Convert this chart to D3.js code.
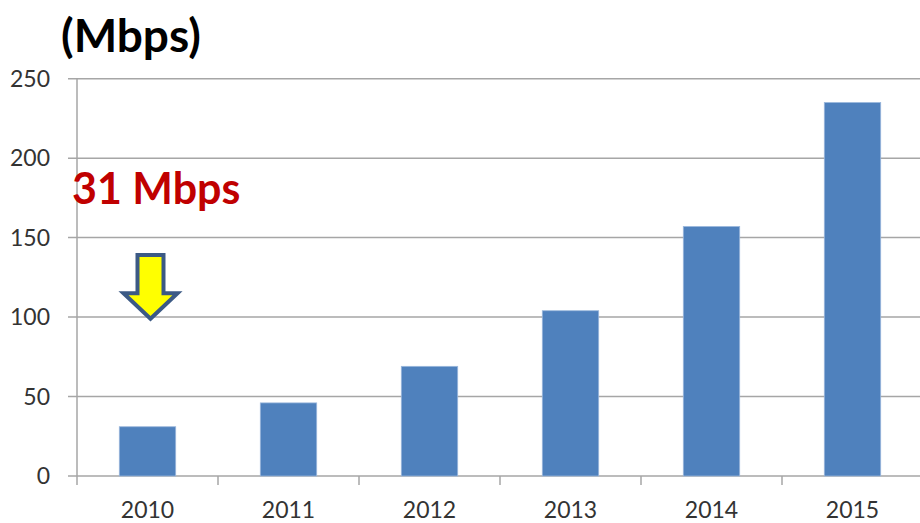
<!DOCTYPE html>
<html>
<head>
<meta charset="utf-8">
<script src="https://cdn.jsdelivr.net/npm/d3@7"></script>
<style>
  body { margin: 0; background: #fff; }
  text { font-family: Lato, "Open Sans", sans-serif; }
</style>
</head>
<body>
<script>
var width = 920,
    height = 523;

// data
var years = ['2010', '2011', '2012', '2013', '2014', '2015'];
var speeds = [31, 46, 69, 104, 157, 235];
var yTicks = [0, 50, 100, 150, 200, 250];

var plotLeft = 77, plotRight = 923, plotTop = 78.7, plotBottom = 476;

var svg = d3.select('body')
  .append('svg')
  .attr('width', width)
  .attr('height', height);

var x = d3.scaleBand()
  .domain(years)
  .range([plotLeft, plotRight])
  .paddingInner(0.6)
  .paddingOuter(0.3);

var y = d3.scaleLinear()
  .domain([0, 250])
  .range([plotBottom, plotTop]);

// gridlines
svg.selectAll('line.grid')
  .data(yTicks)
  .enter().append('line')
  .attr('class', 'grid')
  .attr('x1', plotLeft - 9)
  .attr('x2', width)
  .attr('y1', function (d) { return y(d); })
  .attr('y2', function (d) { return y(d); })
  .attr('stroke', '#a6a6a6')
  .attr('stroke-width', 1.5);

// y axis line
svg.append('line')
  .attr('x1', plotLeft).attr('x2', plotLeft)
  .attr('y1', y(250)).attr('y2', plotBottom + 9)
  .attr('stroke', '#a6a6a6')
  .attr('stroke-width', 1.5);

// x ticks at band edges
var step = x.step();
svg.selectAll('line.xtick')
  .data(years.slice(1))
  .enter().append('line')
  .attr('class', 'xtick')
  .attr('x1', function (d) { return x(d) - step * 0.3; })
  .attr('x2', function (d) { return x(d) - step * 0.3; })
  .attr('y1', plotBottom)
  .attr('y2', plotBottom + 9)
  .attr('stroke', '#a6a6a6')
  .attr('stroke-width', 1.5);

// y tick labels
svg.selectAll('text.ytick')
  .data(yTicks)
  .enter().append('text')
  .attr('class', 'ytick')
  .attr('x', 50)
  .attr('y', function (d) { return y(d) + 8; })
  .attr('text-anchor', 'end')
  .attr('font-size', 23)
  .attr('fill', '#333')
  .text(function (d) { return d; });

// x labels
svg.selectAll('text.xlabel')
  .data(years)
  .enter().append('text')
  .attr('class', 'xlabel')
  .attr('x', function (d) { return x(d) + x.bandwidth() / 2; })
  .attr('y', 518)
  .attr('text-anchor', 'middle')
  .attr('font-size', 23)
  .attr('fill', '#333')
  .text(function (d) { return d; });

// bars
svg.selectAll('rect.bar')
  .data(speeds)
  .enter().append('rect')
  .attr('class', 'bar')
  .attr('x', function (d, i) { return x(years[i]); })
  .attr('width', x.bandwidth())
  .attr('y', function (d) { return y(d); })
  .attr('height', function (d) { return plotBottom - y(d); })
  .attr('fill', '#4f81bd')
  .attr('stroke', '#9ab7dc')
  .attr('stroke-width', 0.8);

// unit title
svg.append('text')
  .attr('x', 61)
  .attr('y', 52)
  .attr('font-size', 46)
  .attr('font-weight', 'bold')
  .attr('fill', '#000')
  .text('(Mbps)');

// callout
svg.append('text')
  .attr('x', 72)
  .attr('y', 204)
  .attr('font-size', 43)
  .attr('font-weight', 'bold')
  .attr('fill', '#c00000')
  .text('31 Mbps');

// arrow over the 2010 bar
var ax = x('2010') + x.bandwidth() / 2 + 3;
var aTop = y(139), aNeck = y(115), aTip = y(99);
var arrow = [
  [ax - 13, aTop], [ax + 13, aTop], [ax + 13, aNeck], [ax + 27, aNeck],
  [ax, aTip], [ax - 27, aNeck], [ax - 13, aNeck]
];
svg.append('polygon')
  .attr('points', arrow.map(function (p) { return p.join(','); }).join(' '))
  .attr('fill', '#ffff00')
  .attr('stroke', '#3c5a85')
  .attr('stroke-width', 4)
  .attr('stroke-linejoin', 'miter');
</script>
</body>
</html>
